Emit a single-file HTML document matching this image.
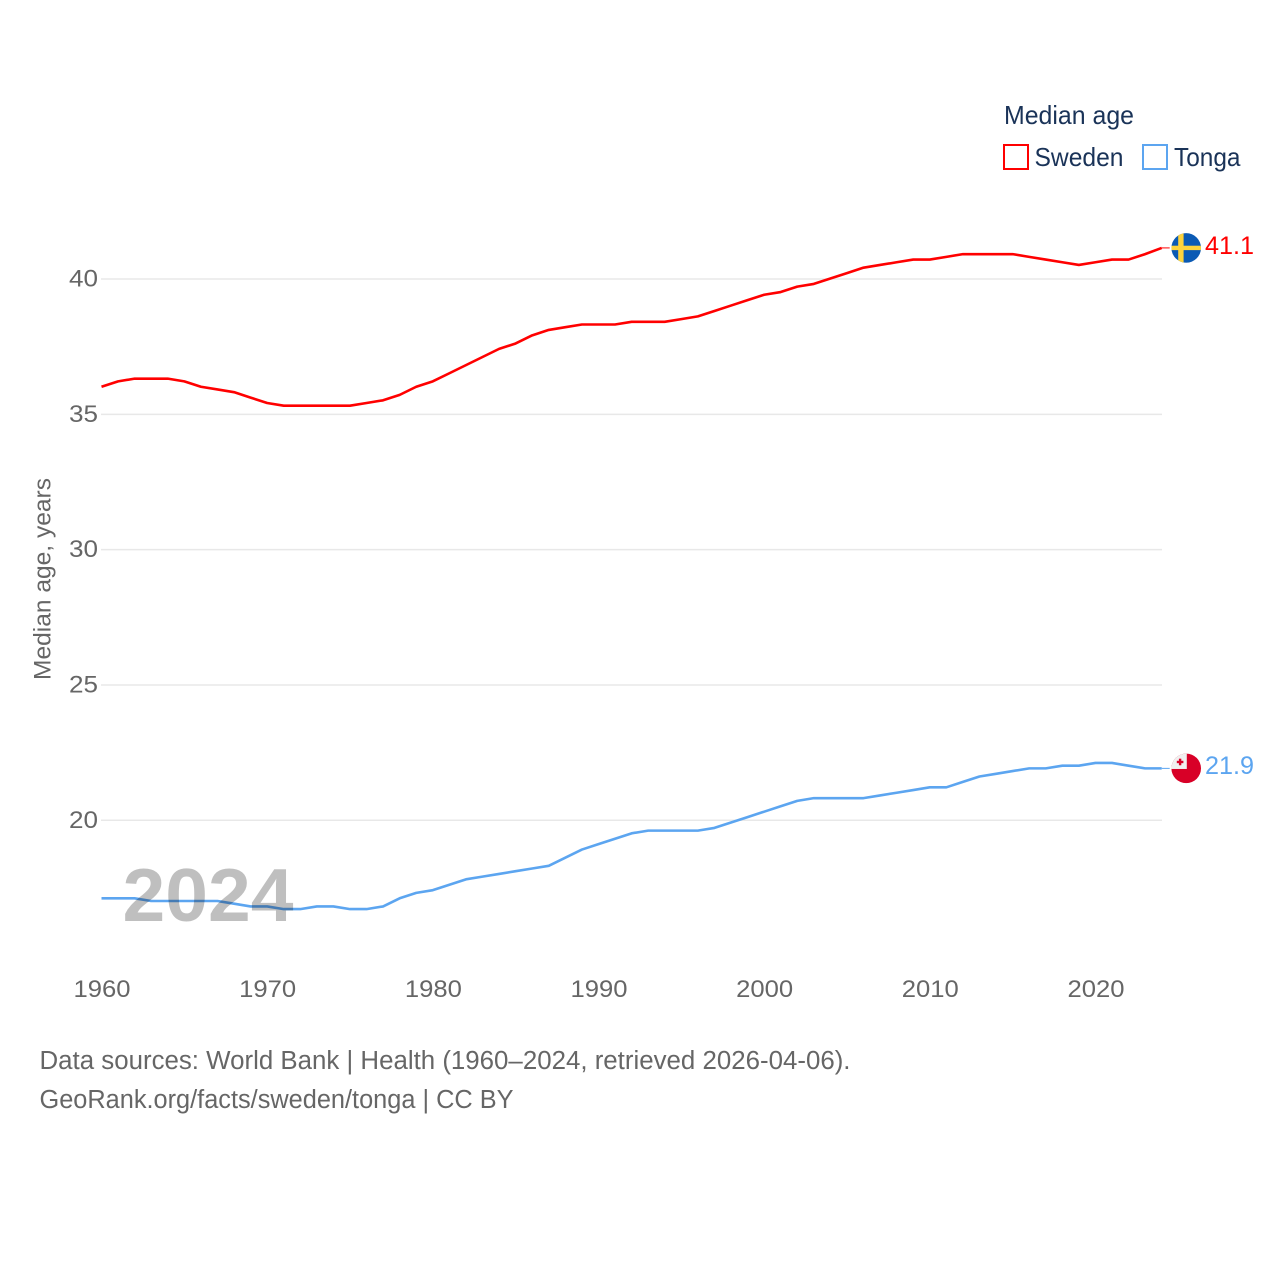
<!DOCTYPE html>
<html lang="en">
<head>
<meta charset="utf-8">
<title>Median age: Sweden and Tonga</title>
<style>
html,body{margin:0;padding:0;background:#fff;width:1280px;height:1280px;overflow:hidden}
svg{display:block;font-family:"Liberation Sans",Arial,sans-serif}
</style>
</head>
<body>
<svg id="chart" width="1280" height="1280" viewBox="0 0 1280 1280" xmlns="http://www.w3.org/2000/svg">
  <g id="grid"></g>
  <g id="y-ticks"></g>
  <g id="x-ticks"></g>
  <text transform="translate(50.5,680) rotate(-90)" textLength="202" lengthAdjust="spacingAndGlyphs" font-size="24.5" fill="#666">Median age, years</text>

  <g id="series"></g>

  <text x="122.5" y="921" textLength="171" lengthAdjust="spacingAndGlyphs" font-size="75" font-weight="bold" fill="#000" fill-opacity="0.25">2024</text>

  <g id="end-markers"></g>

  <g>
    <text x="1004" y="124" textLength="130" lengthAdjust="spacingAndGlyphs" font-size="26" fill="#1a3358">Median age</text>
    <g>
      <rect x="1004" y="145" width="24" height="24" fill="none" stroke="#ff0000" stroke-width="2"/>
      <text x="1034.5" y="166" textLength="89" lengthAdjust="spacingAndGlyphs" font-size="26" fill="#1a3358">Sweden</text>
    </g>
    <g>
      <rect x="1143" y="145" width="24" height="24" fill="none" stroke="#5ca5f0" stroke-width="2"/>
      <text x="1174" y="166" textLength="66.5" lengthAdjust="spacingAndGlyphs" font-size="26" fill="#1a3358">Tonga</text>
    </g>
  </g>

  <g>
    <text x="39.5" y="1069" textLength="811" lengthAdjust="spacingAndGlyphs" font-size="25.5" fill="#666">Data sources: World Bank | Health (1960–2024, retrieved 2026-04-06).</text>
    <text x="39.5" y="1108" textLength="474" lengthAdjust="spacingAndGlyphs" font-size="25.5" fill="#666">GeoRank.org/facts/sweden/tonga | CC BY</text>
  </g>
</svg>
<script>
const years = [1960,1961,1962,1963,1964,1965,1966,1967,1968,1969,1970,1971,1972,1973,1974,1975,1976,1977,1978,1979,1980,1981,1982,1983,1984,1985,1986,1987,1988,1989,1990,1991,1992,1993,1994,1995,1996,1997,1998,1999,2000,2001,2002,2003,2004,2005,2006,2007,2008,2009,2010,2011,2012,2013,2014,2015,2016,2017,2018,2019,2020,2021,2022,2023,2024];
const swedenValues = [36.0,36.2,36.3,36.3,36.3,36.2,36.0,35.9,35.8,35.6,35.4,35.3,35.3,35.3,35.3,35.3,35.4,35.5,35.7,36.0,36.2,36.5,36.8,37.1,37.4,37.6,37.9,38.1,38.2,38.3,38.3,38.3,38.4,38.4,38.4,38.5,38.6,38.8,39.0,39.2,39.4,39.5,39.7,39.8,40.0,40.2,40.4,40.5,40.6,40.7,40.7,40.8,40.9,40.9,40.9,40.9,40.8,40.7,40.6,40.5,40.6,40.7,40.7,40.9,41.13];
const tongaValues = [17.1,17.1,17.1,17.0,17.0,17.0,17.0,17.0,16.9,16.8,16.8,16.7,16.7,16.8,16.8,16.7,16.7,16.8,17.1,17.3,17.4,17.6,17.8,17.9,18.0,18.1,18.2,18.3,18.6,18.9,19.1,19.3,19.5,19.6,19.6,19.6,19.6,19.7,19.9,20.1,20.3,20.5,20.7,20.8,20.8,20.8,20.8,20.9,21.0,21.1,21.2,21.2,21.4,21.6,21.7,21.8,21.9,21.9,22.0,22.0,22.1,22.1,22.0,21.9,21.9];
const yTickValues = [20,25,30,35,40];
const xTickValues = [1960,1970,1980,1990,2000,2010,2020];

const NS = 'http://www.w3.org/2000/svg';
const xScale = function (year) { return 101.5 + (year - 1960) * (1161.7 - 101.5) / 64; };
const yScale = function (value) { return 820.3 - (value - 20) * (820.3 - 279) / 20; };
const yMark = function (value) { return yScale(value) - 0.5; };

function make(tag, attrs, parent) {
  const el = document.createElementNS(NS, tag);
  Object.keys(attrs).forEach(function (k) { el.setAttribute(k, attrs[k]); });
  parent.appendChild(el);
  return el;
}

const gridGroup = document.getElementById('grid');
const yTickGroup = document.getElementById('y-ticks');
yTickValues.forEach(function (v) {
  const line = make('line', {x1: 101, x2: 1162, y1: yScale(v), y2: yScale(v), stroke: '#e8e8e8', 'stroke-width': 1.5}, gridGroup);
  
  
  const label = make('text', {x: 98, y: yScale(v) + 7.5, 'text-anchor': 'end', 'font-size': 24, fill: '#666', textLength: 29, lengthAdjust: 'spacingAndGlyphs'}, yTickGroup);
  
  
  label.textContent = String(v);
});

const xTickGroup = document.getElementById('x-ticks');
xTickValues.forEach(function (year) {
  const label = make('text', {x: xScale(year) + 0.5, y: 997, 'text-anchor': 'middle', 'font-size': 24, fill: '#666', textLength: 57, lengthAdjust: 'spacingAndGlyphs'}, xTickGroup);
  
  
  label.textContent = String(year);
});

function pointsFor(values) {
  return values.map(function (v, i) { return xScale(years[i]).toFixed(2) + ',' + yMark(v).toFixed(2); }).join(' ');
}

const seriesGroup = document.getElementById('series');
const swedenLine = make('polyline', {points: pointsFor(swedenValues), fill: 'none', stroke: '#ff0000', 'stroke-width': 2.6, 'stroke-linejoin': 'round'}, seriesGroup);


const tongaLine = make('polyline', {points: pointsFor(tongaValues), fill: 'none', stroke: '#5ca5f0', 'stroke-width': 2.6, 'stroke-linejoin': 'round'}, seriesGroup);



const markerGroup = document.getElementById('end-markers');
const lastX = xScale(years[years.length - 1]);
const swedenY = yMark(swedenValues[swedenValues.length - 1]);
const tongaY = yMark(tongaValues[tongaValues.length - 1]);

const swedenLeader = make('line', {x1: lastX, x2: lastX + 8, y1: swedenY, y2: swedenY, stroke: '#ff0000', 'stroke-width': 1}, markerGroup);


const tongaLeader = make('line', {x1: lastX, x2: lastX + 8, y1: tongaY, y2: tongaY, stroke: '#5ca5f0', 'stroke-width': 1}, markerGroup);



const defs = make('defs', {}, markerGroup);
const clipSweden = make('clipPath', {id: 'clip-sweden'}, defs);
make('circle', {cx: 0, cy: 0, r: 14.8}, clipSweden);
const clipTonga = make('clipPath', {id: 'clip-tonga'}, defs);
make('circle', {cx: 0, cy: 0, r: 14.8}, clipTonga);

const swedenFlag = make('g', {transform: 'translate(1186.2,' + swedenY + ')', 'clip-path': 'url(#clip-sweden)'}, markerGroup);


make('rect', {x: -15, y: -15, width: 30, height: 30, fill: '#0b5ab4'}, swedenFlag);
make('rect', {x: -8, y: -15, width: 5.4, height: 30, fill: '#fdd33c'}, swedenFlag);
make('rect', {x: -15, y: -2.2, width: 30, height: 4.4, fill: '#fdd33c'}, swedenFlag);

const tongaFlag = make('g', {transform: 'translate(1186.2,' + tongaY + ')', 'clip-path': 'url(#clip-tonga)'}, markerGroup);


make('rect', {x: -15, y: -15, width: 30, height: 30, fill: '#d80027'}, tongaFlag);
make('rect', {x: -15, y: -15, width: 15.6, height: 15.6, fill: '#f0f0f0'}, tongaFlag);
make('rect', {x: -9.4, y: -7.6, width: 6.6, height: 2.4, fill: '#d80027'}, tongaFlag);
make('rect', {x: -7.3, y: -9.7, width: 2.4, height: 6.6, fill: '#d80027'}, tongaFlag);

const swedenValueLabel = make('text', {x: 1205, y: swedenY + 6, 'font-size': 25, fill: '#ff0000', textLength: 49, lengthAdjust: 'spacingAndGlyphs'}, markerGroup);


swedenValueLabel.textContent = swedenValues[swedenValues.length - 1].toFixed(1);

const tongaValueLabel = make('text', {x: 1205, y: tongaY + 5.5, 'font-size': 25, fill: '#5ca5f0', textLength: 49, lengthAdjust: 'spacingAndGlyphs'}, markerGroup);


tongaValueLabel.textContent = tongaValues[tongaValues.length - 1].toFixed(1);
</script>
</body>
</html>
